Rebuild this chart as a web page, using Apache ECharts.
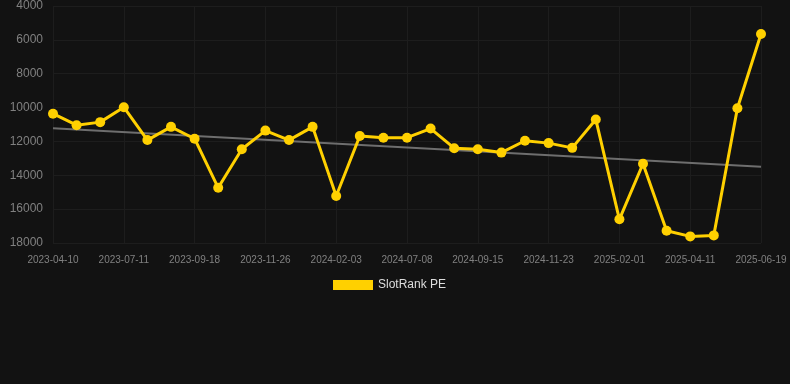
<!DOCTYPE html>
<html>
<head>
<meta charset="utf-8">
<script src="https://cdn.jsdelivr.net/npm/echarts@6/dist/echarts.min.js"></script>
<style>
  html, body { margin: 0; padding: 0; background: #121212; }
  #pe_chart { width: 790px; height: 384px; }
</style>
</head>
<body>
<div id="pe_chart"></div>
<script>
var dates = [
    '2023-04-10', '2023-05-11', '2023-06-10', '2023-07-11', '2023-08-03', '2023-08-26',
    '2023-09-18', '2023-10-11', '2023-11-03', '2023-11-26', '2023-12-19', '2024-01-11',
    '2024-02-03', '2024-03-19', '2024-05-04', '2024-07-08', '2024-07-31', '2024-08-23',
    '2024-09-15', '2024-10-08', '2024-10-31', '2024-11-23', '2024-12-16', '2025-01-08',
    '2025-02-01', '2025-02-24', '2025-03-19', '2025-04-11', '2025-05-04', '2025-05-27',
    '2025-06-19'
];
var pe_values = [
    10360, 11040, 10860, 9980, 11920, 11140,
    11840, 14740, 12460, 11360, 11920, 11140,
    15220, 11680, 11780, 11780, 11240, 12400,
    12460, 12660, 11960, 12100, 12380, 10700,
    16600, 13320, 17280, 17610, 17550, 10040,
    5650
];
var y_ticks = [4000, 18000, 2000];

// least squares trend over the series
function trend_line(values) {
    var n = values.length, sx = 0, sy = 0, sxy = 0, sxx = 0;
    for (var i = 0; i < n; i++) {
        sx += i; sy += values[i]; sxy += i * values[i]; sxx += i * i;
    }
    var k = (n * sxy - sx * sy) / (n * sxx - sx * sx);
    var b = (sy - k * sx) / n;
    return [[dates[0], b], [dates[n - 1], b + k * (n - 1)]];
}

var pe_chart = echarts.init(document.getElementById('pe_chart'));
pe_chart.setOption({
    backgroundColor: '#121212',
    animation: false,
    grid: {
        left: 53,
        right: 29,
        top: 6,
        bottom: 141,
        containLabel: false
    },
    legend: {
        top: 279,
        left: 333,
        itemWidth: 40,
        itemHeight: 10,
        itemGap: 6,
        padding: 0,
        icon: 'rect',
        textStyle: { color: '#dddddd', fontSize: 12, fontFamily: 'Liberation Sans, Arial' },
        data: ['SlotRank PE']
    },
    xAxis: {
        type: 'category',
        boundaryGap: false,
        data: dates,
        axisLine: { show: false },
        axisTick: { show: false },
        axisLabel: {
            interval: 2,
            color: '#808080',
            fontSize: 10,
            margin: 12,
            fontFamily: 'Liberation Sans, Arial'
        },
        splitLine: {
            show: true,
            interval: 2,
            lineStyle: { color: '#1d1d1d', width: 1 }
        }
    },
    yAxis: {
        type: 'value',
        inverse: true,
        min: y_ticks[0],
        max: y_ticks[1],
        interval: y_ticks[2],
        axisLine: { show: false },
        axisTick: { show: false },
        axisLabel: {
            color: '#808080',
            fontSize: 12,
            margin: 10,
            fontFamily: 'Liberation Sans, Arial',
            formatter: function (v) { return String(v); }
        },
        splitLine: { lineStyle: { color: '#1d1d1d', width: 1 } }
    },
    series: [
        {
            name: 'SlotRank PE',
            type: 'line',
            data: pe_values,
            color: '#ffd000',
            symbol: 'circle',
            symbolSize: 10,
            lineStyle: { width: 3, color: '#ffd000' },
            itemStyle: { color: '#ffd000' },
            z: 3
        },
        {
            name: 'trend',
            type: 'line',
            data: trend_line(pe_values),
            symbol: 'none',
            lineStyle: { width: 2, color: '#6e6e6e' },
            z: 2
        }
    ]
});
</script>
</body>
</html>
